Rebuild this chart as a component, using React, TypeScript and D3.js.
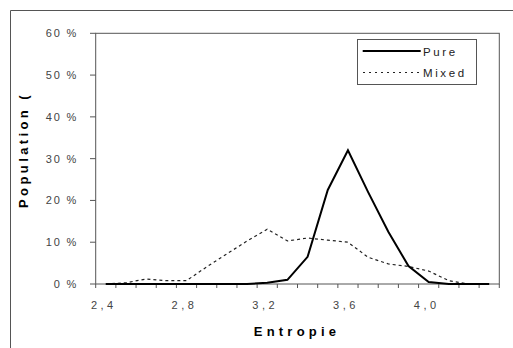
import React from "react";
import * as d3 from "d3";

const categories = ["2,4","2,5","2,6","2,7","2,8","2,9","3,0","3,1","3,2","3,3","3,4","3,5","3,6","3,7","3,8","3,9","4,0","4,1","4,2","4,3"];
const pureValues = [0,0,0,0,0,0,0,0,0.3,1.0,6.5,22.5,32.0,22.0,12.5,4.3,0.5,0,0,0];
const mixedValues = [0,0.3,1.2,0.8,0.8,4.1,7.2,10.3,13.1,10.3,11.0,10.5,10.0,6.4,4.8,4.2,3.1,0.8,0,0];
const yTicks = [0,10,20,30,40,50,60];
const seriesNames = ["Pure","Mixed"];

const W = 513, H = 348;
const L = 95.7, R = 499.3, T = 33.3, B = 284;

export default function App() {
  const x = d3.scaleBand<string>().domain(categories).range([L, R]).padding(0);
  const bw = x.bandwidth();
  const cx = (c: string) => (x(c) as number) + bw / 2;
  const y = d3.scaleLinear().domain([0, 60]).range([B, T]);
  const line = d3.line<number>().x((_, i) => cx(categories[i])).y((v) => y(v));
  const font = "'Liberation Sans', Arial, sans-serif";
  const tickColor = "#444";
  const boundaries = d3.range(categories.length + 1).map((i) => L + i * bw);

  return (
    <svg width={W} height={H} style={{ position: "absolute", left: 0, top: 0 }} fontFamily={font}>
      <rect x={0} y={0} width={W} height={H} fill="#fff" />
      <line x1={10.5} y1={10.5} x2={W} y2={10.5} stroke="#555" />
      <line x1={10.5} y1={10.5} x2={10.5} y2={H} stroke="#555" />
      <rect x={L} y={T} width={R - L} height={B - T} fill="none" stroke="#555" strokeWidth={1} />
      {yTicks.map((t) => (
        <g key={t}>
          <line x1={90} x2={L} y1={y(t)} y2={y(t)} stroke="#555" />
          <text x={78} y={y(t)} dy="0.35em" textAnchor="end" fontSize={11} letterSpacing={1.8} fill={tickColor}>
            {t + " %"}
          </text>
        </g>
      ))}
      {boundaries.map((bx, i) => (
        <line key={i} x1={bx} x2={bx} y1={B} y2={B + 4} stroke="#555" />
      ))}
      {categories.map((c, i) =>
        i % 4 === 0 ? (
          <text key={c} x={cx(c) - 2} y={305} dy="0.35em" textAnchor="middle" fontSize={11} letterSpacing={3.5} fill={tickColor}>
            {c}
          </text>
        ) : null
      )}
      <path d={line(mixedValues) as string} fill="none" stroke="#222" strokeWidth={1.2} strokeDasharray="3,3" />
      <path d={line(pureValues) as string} fill="none" stroke="#000" strokeWidth={2} strokeLinejoin="miter" />
      <text x={297} y={331} dy="0.35em" textAnchor="middle" fontSize={13} fontWeight="bold" letterSpacing={4.2} fill="#000">
        Entropie
      </text>
      <text transform="translate(23,150) rotate(-90)" dy="0.35em" textAnchor="middle" fontSize={13} fontWeight="bold" letterSpacing={3.4} fill="#000">
        Population (
      </text>
      <rect x={357.5} y={39.5} width={119} height={45} fill="#fff" stroke="#555" />
      <line x1={362.7} x2={420.7} y1={51} y2={51} stroke="#000" strokeWidth={2} />
      <text x={423} y={51.5} dy="0.35em" fontSize={11.5} letterSpacing={2.6} fill="#222">{seriesNames[0]}</text>
      <line x1={363} x2={420.7} y1={72.5} y2={72.5} stroke="#222" strokeWidth={1.2} strokeDasharray="2,4" />
      <text x={423} y={72.5} dy="0.35em" fontSize={11.5} letterSpacing={2.6} fill="#222">{seriesNames[1]}</text>
    </svg>
  );
}
